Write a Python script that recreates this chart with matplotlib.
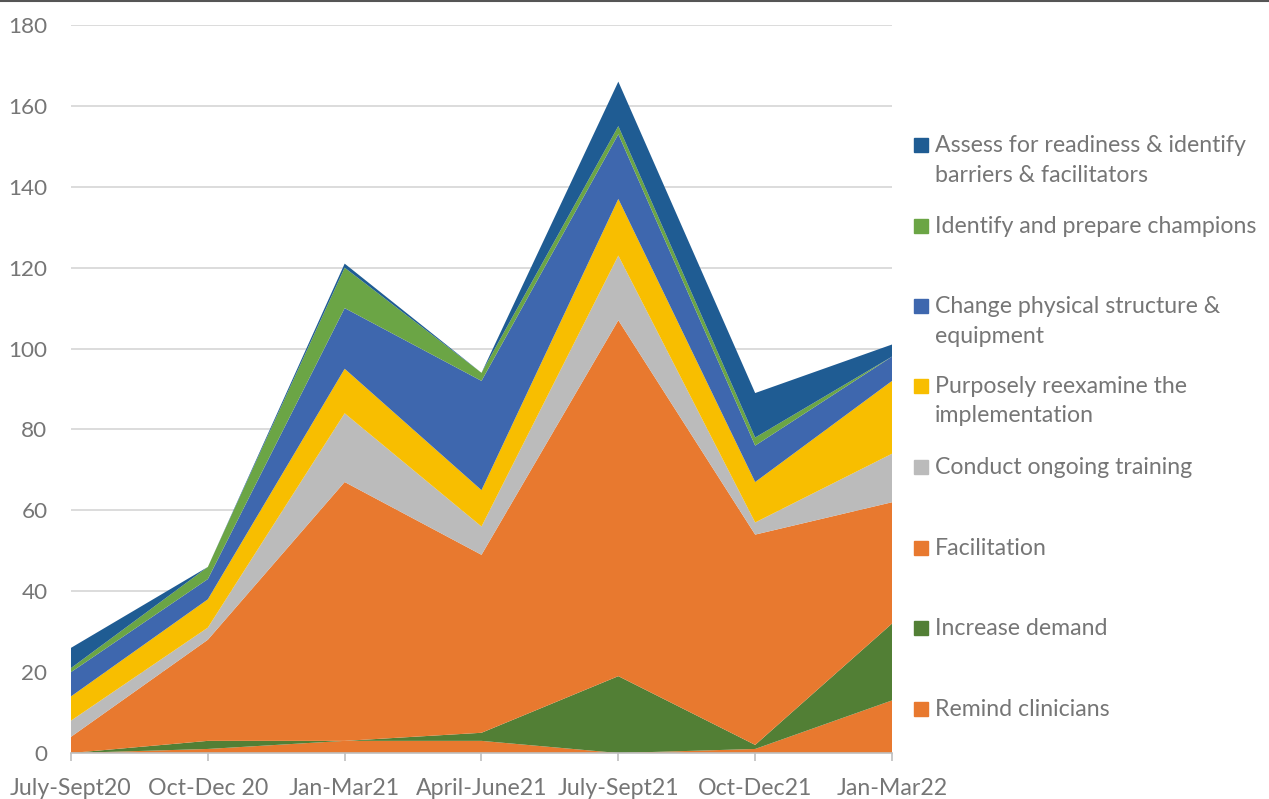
import numpy as np
import matplotlib
matplotlib.use("Agg")
import matplotlib.pyplot as plt
from matplotlib.patches import Rectangle

# quarters on the x axis
quarters = ["July-Sept20", "Oct-Dec 20", "Jan-Mar21", "April-June21",
            "July-Sept21", "Oct-Dec21", "Jan-Mar22"]

# series values, bottom of the stack first
remind = [0, 1, 3, 3, 0, 1, 13]
increase_demand = [0, 2, 0, 2, 19, 1, 19]
facilitation = [4, 25, 64, 44, 88, 52, 30]
training = [4, 3, 17, 7, 16, 3, 12]
reexamine = [6, 7, 11, 9, 14, 10, 18]
physical = [6, 5, 15, 27, 16, 9, 6]
champions = [1, 3, 10, 2, 2, 2, 0]
assess = [5, 0, 1, 0, 11, 11, 3]

series_names = ["Remind clinicians", "Increase demand", "Facilitation",
                "Conduct ongoing training", "Purposely reexamine the\nimplementation",
                "Change physical structure &\nequipment", "Identify and prepare champions",
                "Assess for readiness & identify\nbarriers & facilitators"]
colors = ["#E8792F", "#527F35", "#E8792F", "#BBBBBB", "#F8BE00",
          "#3E67AE", "#6BA545", "#1F5C93"]

plt.rcParams["font.family"] = ["Lato", "DejaVu Sans"]
txt_color = "#767676"
fsize = 16.7

fig = plt.figure(figsize=(12.69, 7.99), dpi=100)
ax = fig.add_axes([71 / 1269, 1 - 753 / 799, (892 - 71) / 1269, (753 - 25) / 799])

x = np.arange(len(quarters))
ax.stackplot(x, remind, increase_demand, facilitation, training, reexamine,
             physical, champions, assess, colors=colors, linewidth=0, zorder=2)

ax.set_xlim(0, 6)
ax.set_ylim(0, 180)
ax.set_yticks(range(0, 181, 20))
ax.yaxis.grid(True, color="#D9D9D9", linewidth=1.3, zorder=0)
ax.set_axisbelow(True)
ax.set_xticks(x)
ax.set_xticklabels(quarters)
ax.tick_params(axis="y", length=0, pad=17, labelsize=fsize - 0.5, labelcolor=txt_color)
ax.tick_params(axis="x", length=6, color="#BFBFBF", width=1.2, pad=12,
               labelsize=fsize, labelcolor=txt_color)
for side in ["top", "right", "left"]:
    ax.spines[side].set_visible(False)
ax.spines["bottom"].set_color("#BFBFBF")
ax.spines["bottom"].set_linewidth(1.2)
ax.spines["bottom"].set_zorder(3)

# legend laid out by hand, top entry first
legend_y = [145, 226, 306, 386, 467, 548, 628, 709]
order = list(range(len(series_names)))[::-1]
for yy, i in zip(legend_y, order):
    fig.patches.append(Rectangle((914 / 1269, 1 - (yy + 7) / 799), 14 / 1269, 14 / 799,
                                 transform=fig.transFigure, color=colors[i]))
    fig.text(935 / 1269, 1 - (yy - 10) / 799, series_names[i], fontsize=fsize,
             color=txt_color, va="top", ha="left", linespacing=1.5)

# thin border line at the top of the picture
fig.add_artist(plt.Line2D([0, 1], [0.999, 0.999], transform=fig.transFigure,
                          color="#555555", linewidth=1.5))

fig.savefig("out.png", dpi=100)
